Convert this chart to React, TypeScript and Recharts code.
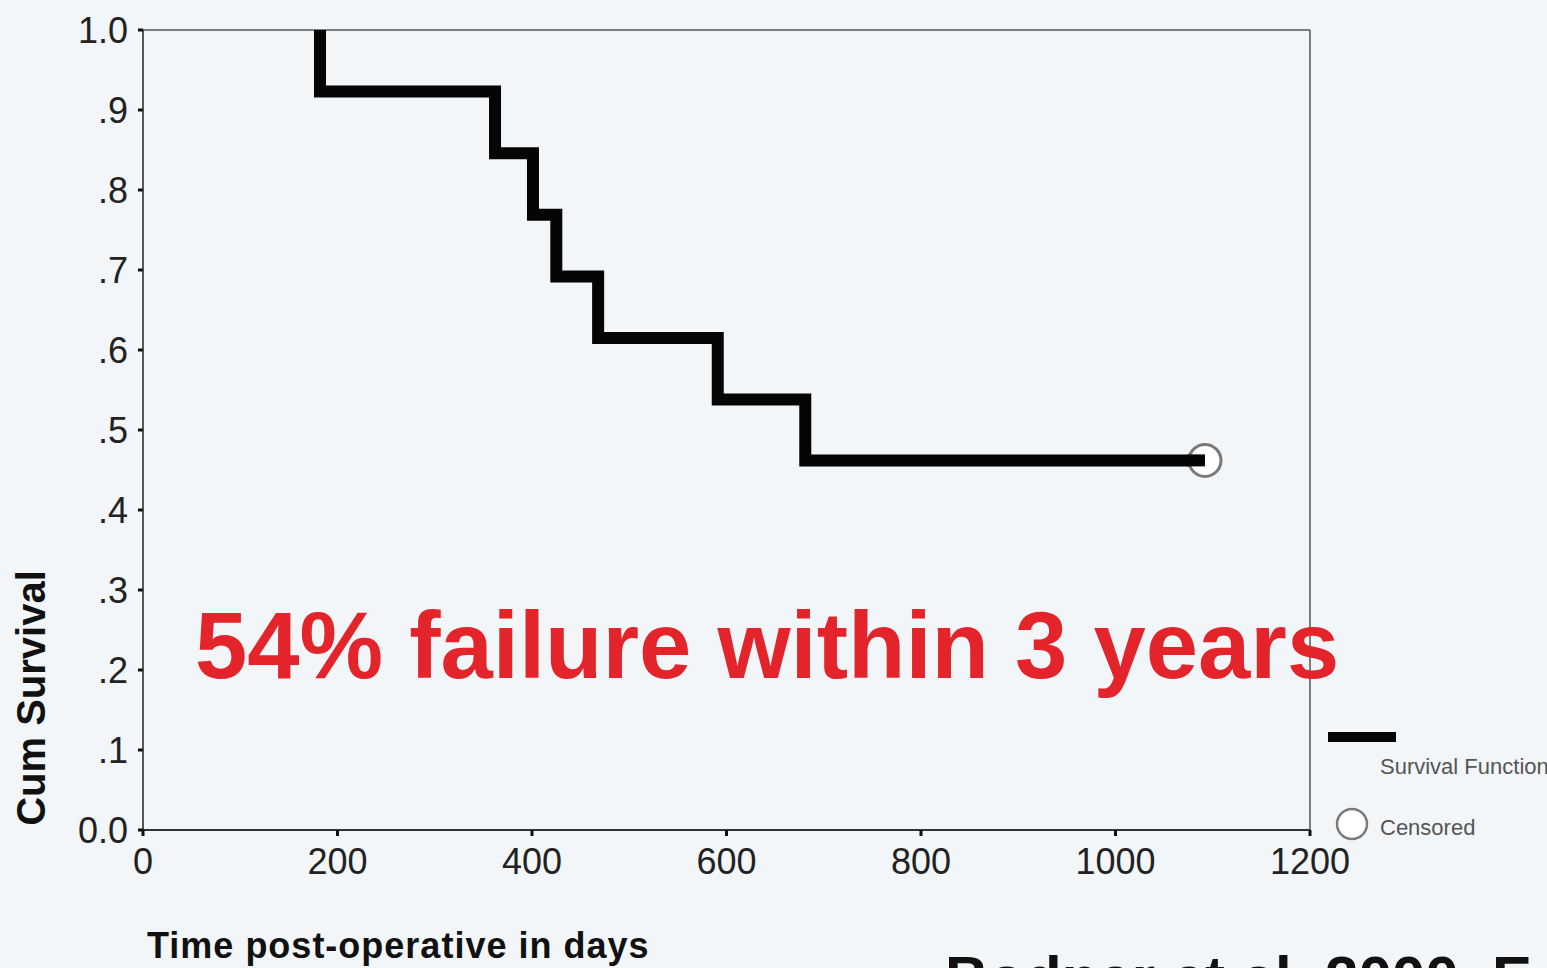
import React from 'react';
import {
  ComposedChart,
  Line,
  Scatter,
  XAxis,
  YAxis,
  ReferenceLine,
} from 'recharts';

// Kaplan-Meier survival steps (days post-op, cumulative survival)
const eventDays = [182, 182, 362, 401, 425, 468, 591, 681, 1092];
const survival = [1.0, 0.923, 0.846, 0.769, 0.692, 0.615, 0.538, 0.462, 0.462];

// censored observation
const censoredDays = [1092];
const censoredSurvival = [0.462];

const xTicks = [0, 200, 400, 600, 800, 1000, 1200];
const yTicks = [0, 0.1, 0.2, 0.3, 0.4, 0.5, 0.6, 0.7, 0.8, 0.9, 1.0];

const survivalData = eventDays.map((t, i) => ({ t, s: survival[i] }));
const censoredData = censoredDays.map((t, i) => ({ t, s: censoredSurvival[i] }));

const FONT = '"Liberation Sans", Arial, sans-serif';
const BG = '#f2f6f8';

function formatY(v: number) {
  if (v === 0) return '0.0';
  if (v === 1) return '1.0';
  return v.toFixed(1).replace(/^0/, '');
}

// circle with the survival line running into its centre (as SPSS draws it)
const CensorMark = (props: any) => {
  const { cx, cy } = props;
  return (
    <g>
      <circle cx={cx} cy={cy} r={16} fill="#ffffff" stroke="#7a7a7a" strokeWidth={3} />
      <rect x={cx - 18} y={cy - 6} width={18} height={12} fill="#050505" />
    </g>
  );
};

export default function App() {
  return (
    <div
      style={{
        position: 'fixed',
        left: 0,
        top: 0,
        width: 1547,
        height: 968,
        overflow: 'hidden',
        background: BG,
        fontFamily: FONT,
      }}
    >
      <ComposedChart
        width={1547}
        height={968}
        margin={{ top: 30, right: 237, bottom: 98, left: 0 }}
        style={{ fontFamily: FONT }}
      >
        <XAxis
          type="number"
          dataKey="t"
          domain={[0, 1200]}
          ticks={xTicks}
          height={40}
          tickSize={6}
          tickMargin={12}
          axisLine={{ stroke: '#333', strokeWidth: 2 }}
          tickLine={{ stroke: '#111', strokeWidth: 3 }}
          tick={{ fill: '#222', fontSize: 36 }}
        />
        <YAxis
          type="number"
          dataKey="s"
          domain={[0, 1]}
          ticks={yTicks}
          width={143}
          tickSize={5}
          tickMargin={10}
          tickFormatter={formatY}
          axisLine={{ stroke: '#222', strokeWidth: 1.5 }}
          tickLine={{ stroke: '#111', strokeWidth: 3 }}
          tick={{ fill: '#222', fontSize: 36 }}
        />
        <ReferenceLine y={1} stroke="#555" strokeWidth={1.5} />
        <ReferenceLine x={1200} stroke="#555" strokeWidth={1.5} />
        <Line
          data={survivalData}
          dataKey="s"
          type="stepAfter"
          stroke="#050505"
          strokeWidth={12}
          strokeLinejoin="miter"
          strokeLinecap="butt"
          dot={false}
          activeDot={false}
          isAnimationActive={false}
        />
        <Scatter
          data={censoredData}
          dataKey="s"
          shape={CensorMark}
          isAnimationActive={false}
        />
      </ComposedChart>

      <svg
        width={1547}
        height={968}
        style={{ position: 'absolute', left: 0, top: 0, pointerEvents: 'none' }}
        fontFamily={FONT}
      >
        <text x={195} y={678} fontSize={94} fontWeight={700} fill="#e3242b">
          54% failure within 3 years
        </text>
        <text
          transform="translate(45,698) rotate(-90)"
          textAnchor="middle"
          fontSize={40}
          fontWeight={700}
          fill="#111"
        >
          Cum Survival
        </text>
        <text x={147} y={958} fontSize={36} fontWeight={700} letterSpacing={1} fill="#111">
          Time post-operative in days
        </text>

        {/* legend */}
        <line x1={1328} x2={1396} y1={737} y2={737} stroke="#050505" strokeWidth={10} />
        <text x={1380} y={774} fontSize={22} fill="#555">
          Survival Function
        </text>
        <circle cx={1352} cy={824} r={15} fill="#ffffff" stroke="#7a7a7a" strokeWidth={2.5} />
        <text x={1380} y={835} fontSize={22} fill="#555">
          Censored
        </text>

        <text x={945} y={998} fontSize={60} fontWeight={700} fill="#111">
          Bodner et al. 2000. E
        </text>
      </svg>
    </div>
  );
}
